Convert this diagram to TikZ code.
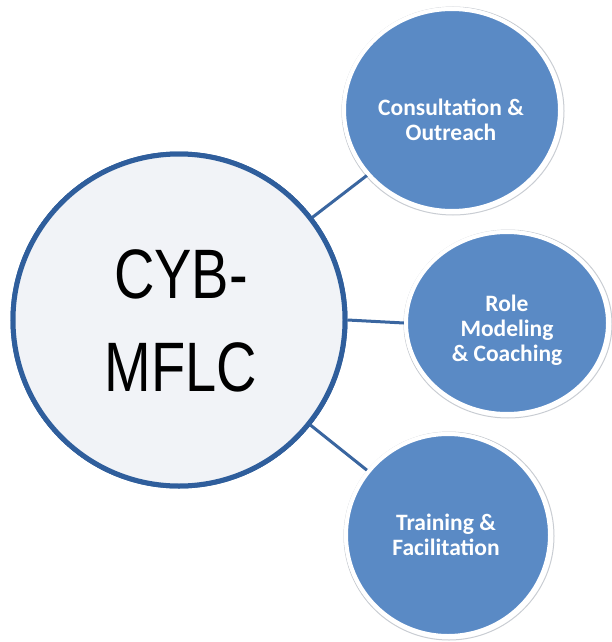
\documentclass[tikz,border=0pt]{standalone}
\usepackage{fontspec}
\setmainfont{Liberation Sans}
\newfontfamily\calib{Carlito}
\usetikzlibrary{shapes.geometric}
\definecolor{hubedge}{HTML}{2F5E9C}
\definecolor{hubfill}{HTML}{F1F3F7}
\definecolor{satfill}{HTML}{5A8AC5}
\definecolor{linkcol}{HTML}{3A66A0}
\definecolor{shadowcol}{HTML}{C9CDD3}
\tikzset{
  hub/.style={circle, draw=hubedge, fill=hubfill, line width=5pt, minimum size=332pt, inner sep=0pt},
  sat/.style={ellipse, draw=white, fill=satfill, line width=4pt, inner sep=0pt},
  satshadow/.style={ellipse, draw=shadowcol, line width=1pt, inner sep=0pt},
  sattext/.style={text=white, font=\calib\bfseries\fontsize{23.5}{25}\selectfont, align=center},
  hubtext/.style={text=black, font=\fontsize{70}{93}\selectfont, align=center, xscale=0.8, transform shape},
  link/.style={draw=linkcol, line width=3pt}
}
\begin{document}
\begin{tikzpicture}[x=1pt,y=-1pt]
\useasboundingbox (0,0) rectangle (611,642);
% shadows for satellites
\node[satshadow, minimum width=222pt, minimum height=208pt] (tshadow) at (453,111) {};
\node[satshadow, minimum width=208pt, minimum height=188pt] (mshadow) at (508,324) {};
\node[satshadow, minimum width=210pt, minimum height=208pt] (bshadow) at (449,536) {};
% nodes
\node[hub] (hub) at (179,320) {};
\node[sat, minimum width=216pt, minimum height=202pt] (top) at (452,110) {};
\node[sat, minimum width=202pt, minimum height=182pt] (mid) at (507,323) {};
\node[sat, minimum width=204pt, minimum height=202pt] (bot) at (448,535) {};
% connectors
\draw[link] (hub) -- (top);
\draw[link] (hub.east) -- (mid.west);
\draw[link] (hub) -- (bot);
% redraw borders on top of links
\node[hub] (hubb) at (179,320) {};
\node[sat, minimum width=216pt, minimum height=202pt] (topb) at (452,110) {};
\node[sat, minimum width=202pt, minimum height=182pt] (midb) at (507,323) {};
\node[sat, minimum width=204pt, minimum height=202pt] (botb) at (448,535) {};
% texts
\node[hubtext] (hubt) at (181,321) {CYB-\\MFLC};
\node[sattext] (topt) at (451,120) {Consultation \&\\Outreach};
\node[sattext] (midt) at (507,330) {Role\\Modeling\\\& Coaching};
\node[sattext] (bott) at (446,535) {Training \&\\Facilitation};
\end{tikzpicture}
\end{document}
